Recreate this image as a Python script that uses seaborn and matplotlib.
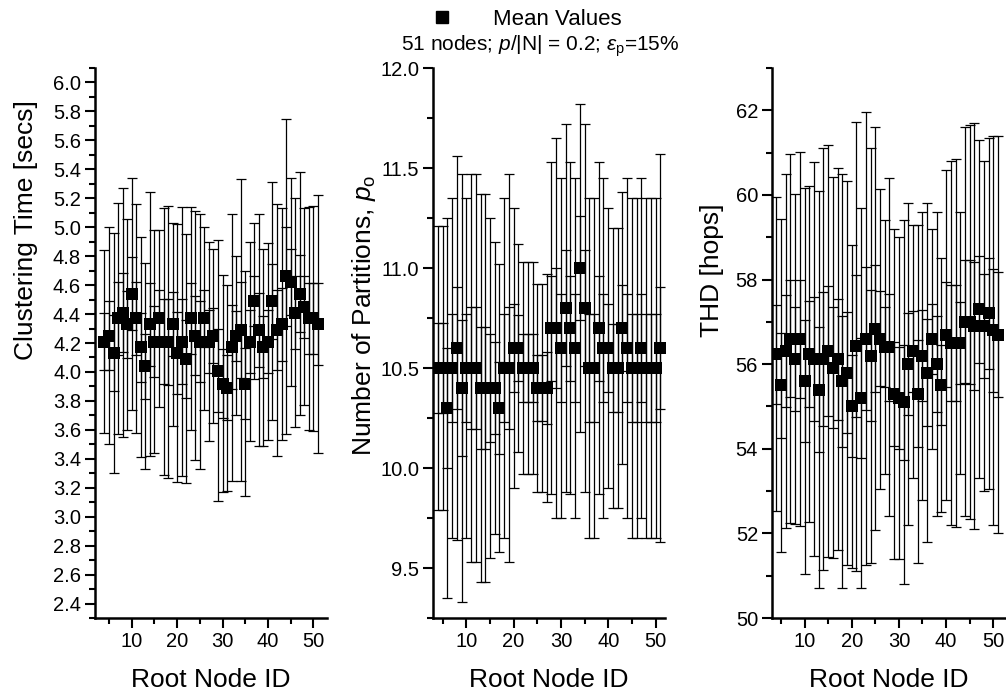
import numpy as np
import pandas as pd
import matplotlib
matplotlib.use('Agg')
import matplotlib.pyplot as plt
import seaborn as sns
from matplotlib.ticker import MultipleLocator, FormatStrFormatter
from matplotlib.lines import Line2D

# root node IDs used as cluster roots
node_ids = list(range(4, 52))

# clustering time [secs]: mean and standard deviation
time_mean = [4.21, 4.25, 4.13, 4.37, 4.41, 4.33, 4.54, 4.37, 4.17, 4.04,
             4.33, 4.21, 4.37, 4.21, 4.21, 4.33, 4.13, 4.21, 4.09, 4.37,
             4.25, 4.21, 4.37, 4.21, 4.25, 4.01, 3.92, 3.89, 4.17, 4.25,
             4.29, 3.92, 4.21, 4.49, 4.29, 4.17, 4.21, 4.49, 4.29, 4.33,
             4.66, 4.62, 4.41, 4.54, 4.45, 4.37, 4.37, 4.33]
time_sd = [0.63, 0.75, 0.83, 0.80, 0.86, 0.73, 0.80, 0.79, 0.76, 0.71,
           0.91, 0.77, 0.61, 0.92, 0.94, 0.70, 0.89, 0.93, 0.86, 0.77,
           0.86, 0.88, 0.63, 0.69, 0.60, 0.90, 0.75, 0.71, 0.92, 0.55,
           1.04, 0.78, 0.69, 0.54, 0.80, 0.68, 0.68, 0.82, 0.87, 0.80,
           1.09, 0.72, 0.79, 0.84, 0.68, 0.77, 0.78, 0.89]

# number of partitions p_o
part_mean = [10.5, 10.5, 10.3, 10.5, 10.6, 10.4, 10.5, 10.5, 10.5, 10.4,
             10.4, 10.4, 10.4, 10.3, 10.5, 10.5, 10.6, 10.6, 10.5, 10.5,
             10.5, 10.4, 10.4, 10.4, 10.7, 10.7, 10.6, 10.8, 10.7, 10.6,
             11.0, 10.8, 10.5, 10.5, 10.7, 10.6, 10.6, 10.5, 10.5, 10.7,
             10.6, 10.5, 10.5, 10.6, 10.5, 10.5, 10.5, 10.6]
part_sd = [0.71, 0.71, 0.95, 0.85, 0.96, 1.07, 0.85, 0.97, 0.97, 0.97,
           0.97, 0.85, 0.73, 0.72, 0.85, 0.97, 0.70, 0.52, 0.53, 0.53,
           0.53, 0.52, 0.52, 0.57, 0.83, 0.95, 0.85, 0.92, 0.83, 0.85,
           0.82, 0.92, 0.85, 0.85, 0.83, 0.85, 0.70, 0.70, 0.70, 0.68,
           0.85, 0.85, 0.85, 0.85, 0.85, 0.85, 0.85, 0.97]

# THD [hops]
thd_mean = [56.24, 55.5, 56.31, 56.6, 56.12, 56.6, 55.6, 56.24, 56.12, 55.4,
            56.12, 56.31, 55.92, 56.12, 55.6, 55.8, 55.0, 56.42, 55.2, 56.6,
            56.2, 56.84, 56.6, 56.4, 56.4, 55.3, 55.2, 55.1, 56.0, 56.3,
            55.3, 56.2, 55.8, 56.6, 56.0, 55.5, 56.7, 56.5, 56.5, 56.5,
            57.0, 57.0, 56.9, 57.3, 56.9, 57.2, 56.8, 56.7]
thd_sd = [3.70, 3.93, 4.18, 4.36, 3.90, 4.42, 4.56, 3.97, 4.65, 4.69,
          4.98, 4.87, 4.50, 4.52, 4.89, 4.54, 3.81, 5.31, 4.48, 5.35,
          4.90, 4.76, 3.55, 3.00, 4.00, 3.90, 3.80, 4.30, 3.80, 3.00,
          4.00, 3.40, 4.00, 2.60, 3.60, 3.00, 3.90, 4.30, 4.35, 3.10,
          4.60, 4.65, 4.80, 4.00, 3.90, 4.15, 4.60, 4.70]

n_runs = 10  # runs per root node, inner bars are standard errors

# mean, sd, ylabel, xlim, ylim, major/minor y step, tick format, ylabel position
panels = [
    (time_mean, time_sd, 'Clustering Time [secs]', (1.9, 53.0), (2.3, 6.1), 0.2, 0.1, '%.1f', (-0.245, 0.705)),
    (part_mean, part_sd, r'Number of Partitions, $\mathit{p}_{\mathrm{o}}$', (2.95, 52.0), (9.25, 12.0), 0.5, 0.25, '%.1f', (-0.235, 0.55)),
    (thd_mean, thd_sd, 'THD [hops]', (3.1, 52.7), (50, 63), 2, 1, '%d', (-0.205, 0.633)),
]

sns.set_theme(style='ticks')
plt.rcParams['font.family'] = ['Liberation Sans', 'DejaVu Sans']
plt.rcParams['mathtext.fontset'] = 'custom'
plt.rcParams['mathtext.rm'] = 'Liberation Sans'
plt.rcParams['mathtext.it'] = 'Liberation Sans:italic'
plt.rcParams['text.color'] = 'black'
plt.rcParams['axes.labelcolor'] = 'black'
plt.rcParams['xtick.color'] = 'black'
plt.rcParams['ytick.color'] = 'black'

fig = plt.figure(figsize=(10.06, 6.94), dpi=100)
rects = [[0.0944, 0.1095, 0.2306, 0.7925],
         [0.4304, 0.1095, 0.2306, 0.7925],
         [0.7674, 0.1095, 0.2326, 0.7925]]

for rect, (mean, sd, ylabel, xlim, ylim, ymaj, ymin, fmt, lab_pos) in zip(rects, panels):
    ax = fig.add_axes(rect)
    df = pd.DataFrame({'node': node_ids, 'mean': mean, 'sd': sd})
    df['se'] = df['sd'] / np.sqrt(n_runs)
    ax.errorbar(df['node'], df['mean'], yerr=df['sd'], fmt='none', ecolor='black',
                elinewidth=0.9, capsize=3.6, capthick=0.9, zorder=1)
    ax.errorbar(df['node'], df['mean'], yerr=df['se'], fmt='none', ecolor='black',
                elinewidth=0.9, capsize=3.6, capthick=0.9, zorder=1)
    sns.scatterplot(data=df, x='node', y='mean', marker='s', s=64, color='black',
                    edgecolor='black', linewidth=0, ax=ax, zorder=3)
    ax.set_xlim(*xlim)
    ax.set_ylim(*ylim)
    ax.xaxis.set_major_locator(MultipleLocator(10))
    ax.xaxis.set_minor_locator(MultipleLocator(5))
    ax.yaxis.set_major_locator(MultipleLocator(ymaj))
    ax.yaxis.set_minor_locator(MultipleLocator(ymin))
    ax.yaxis.set_major_formatter(FormatStrFormatter(fmt))
    ax.set_xticks([10, 20, 30, 40, 50])
    ax.set_xlabel('Root Node ID', fontsize=19, labelpad=12)
    ax.set_ylabel(ylabel, fontsize=19)
    ax.yaxis.set_label_coords(*lab_pos)
    ax.tick_params(which='major', direction='out', length=7, width=1.5, labelsize=14.5, pad=3)
    ax.tick_params(which='minor', direction='out', length=4, width=1.5)
    sns.despine(ax=ax)
    for side in ['left', 'bottom']:
        ax.spines[side].set_linewidth(1.8)
        ax.spines[side].set_color('black')

handle = Line2D([], [], marker='s', color='black', linestyle='none', markersize=8)
fig.legend([handle], ['Mean Values'], loc='center', bbox_to_anchor=(0.518, 0.972),
           frameon=False, fontsize=16, handletextpad=1.3)
fig.text(0.537, 0.934, r'51 nodes; $\mathit{p}$/|N| = 0.2; $\varepsilon_{\mathrm{p}}$=15%',
         ha='center', va='center', fontsize=15)

fig.savefig('out.png', dpi=100)
